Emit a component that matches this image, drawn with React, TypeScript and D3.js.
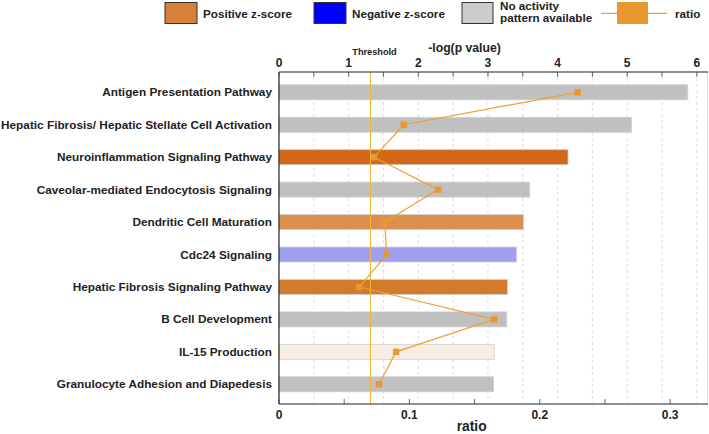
import React from "react";
import * as d3 from "d3";

const categories = [
  "Antigen Presentation Pathway",
  "Hepatic Fibrosis/ Hepatic Stellate Cell Activation",
  "Neuroinflammation Signaling Pathway",
  "Caveolar-mediated Endocytosis Signaling",
  "Dendritic Cell Maturation",
  "Cdc24 Signaling",
  "Hepatic Fibrosis Signaling Pathway",
  "B Cell Development",
  "IL-15 Production",
  "Granulocyte Adhesion and Diapedesis",
];
const logP = [5.87, 5.06, 4.15, 3.6, 3.51, 3.41, 3.28, 3.27, 3.09, 3.08];
const ratio = [0.229, 0.0957, 0.0729, 0.122, 0.0811, 0.0826, 0.0617, 0.165, 0.0898, 0.0767];
const barColors = ["#c0c0c0", "#c0c0c0", "#d06818", "#c0c0c0", "#dc9050", "#a0a0f0", "#d47a2c", "#c0c0c0", "#f8ede3", "#c0c0c0"];
const topTicks = [0, 1, 2, 3, 4, 5, 6];
const bottomTicks = [0, 0.1, 0.2, 0.3];
const threshold = 1.3;

const FONT = "'Liberation Sans', Arial, sans-serif";
const TXT = "#222";

export default function App() {
  const W = 709, H = 434;
  const x0 = 279, x1 = 708, yTop = 72, yBot = 404;
  const xP = d3.scaleLinear().domain([0, 6.16]).range([x0, x1]);
  const xR = d3.scaleLinear().domain([0, 0.329]).range([x0, x1]);
  const y = d3.scalePoint<string>().domain(categories).range([92.3, 384.3]);
  const barH = 15;
  const minorP = d3.range(0, 6.01, 0.5);
  const minorR = d3.range(0, 0.326, 0.05);
  const line = d3.line<number>().x((d) => xR(d)).y((_, i) => y(categories[i])!);
  const thX = Math.round(xP(threshold)) + 0.5;

  return (
    <svg width={W} height={H} style={{ position: "absolute", left: 0, top: 0 }} fontFamily={FONT}>
      <rect width={W} height={H} fill="#fff" />
      {/* legend */}
      <g fontWeight="bold" fontSize={11.7} fill={TXT}>
        <rect x={165} y={2.5} width={32} height={21} fill="#d8803a" stroke="#333" />
        <text x={203} y={17.5}>Positive z-score</text>
        <rect x={314} y={2.5} width={32} height={21} fill="#0000ff" stroke="#333" />
        <text x={352} y={17.5}>Negative z-score</text>
        <rect x={462} y={2.5} width={31} height={21} fill="#cccccc" stroke="#333" />
        <text x={500} y={10}>No activity</text>
        <text x={500} y={22}>pattern available</text>
        <line x1={601} x2={667} y1={13.3} y2={13.3} stroke="#f0a030" strokeWidth={1.2} />
        <rect x={617} y={2} width={31} height={22} fill="#e8982c" />
        <text x={675} y={17.5}>ratio</text>
      </g>
      {/* grid */}
      {minorP.slice(1).map((v) => (
        <line key={"g" + v} x1={xP(v)} x2={xP(v)} y1={yTop} y2={yBot} stroke="#d4d4d4" strokeDasharray="3,3" strokeWidth={0.8} />
      ))}
      <line x1={x1 - 0.5} x2={x1 - 0.5} y1={yTop} y2={yBot} stroke="#d8d8d8" strokeWidth={0.8} />
      {/* bars */}
      {categories.map((c, i) => (
        <rect key={c} x={xP(0)} y={y(c)! - barH / 2} width={xP(logP[i]) - xP(0)} height={barH}
          fill={barColors[i]} stroke="#d0d0d0" strokeWidth={0.8} />
      ))}
      {/* threshold */}
      <line x1={thX} x2={thX} y1={yTop} y2={yBot} stroke="#f3b23a" strokeWidth={1} />
      <text x={thX + 4} y={55} textAnchor="middle" fontWeight="bold" fontSize={9.2} fill={TXT}>Threshold</text>
      {/* ratio line */}
      <path d={line(ratio)!} fill="none" stroke="#f0a030" strokeWidth={1.2} />
      {ratio.map((r, i) => (
        <rect key={"m" + i} x={xR(r) - 3.2} y={y(categories[i])! - 3.2} width={6.4} height={6.4} fill="#e8982c" />
      ))}
      {/* axes */}
      <line x1={x0} x2={x1} y1={yTop} y2={yTop} stroke="#222" strokeWidth={1.2} />
      <line x1={x0} x2={x1} y1={yBot} y2={yBot} stroke="#222" strokeWidth={1.2} />
      <line x1={x0} x2={x0} y1={yTop} y2={yBot} stroke="#222" strokeWidth={1.2} />
      {minorP.map((v) => (
        <line key={"tp" + v} x1={xP(v)} x2={xP(v)} y1={yTop} y2={yTop + 5} stroke="#444" strokeWidth={0.8} />
      ))}
      {minorR.map((v) => (
        <line key={"tr" + v} x1={xR(v)} x2={xR(v)} y1={yBot} y2={yBot - 5} stroke="#444" strokeWidth={0.8} />
      ))}
      <g fontWeight="bold" fontSize={12} fill={TXT} textAnchor="middle">
        {topTicks.map((v) => (
          <text key={"lp" + v} x={xP(v)} y={67}>{v}</text>
        ))}
        {bottomTicks.map((v) => (
          <text key={"lr" + v} x={xR(v)} y={419}>{v === 0 ? "0" : d3.format(".1f")(v)}</text>
        ))}
      </g>
      <text x={464.5} y={52} textAnchor="middle" fontWeight="bold" fontSize={12.2} fill={TXT}>-log(p value)</text>
      <text x={471.7} y={431} textAnchor="middle" fontWeight="bold" fontSize={13.8} fill={TXT}>ratio</text>
      {/* category labels */}
      <g fontWeight="bold" fontSize={11.8} fill={TXT} textAnchor="end">
        {categories.map((c) => (
          <text key={"c" + c} x={272} y={y(c)! + 4}>{c}</text>
        ))}
      </g>
    </svg>
  );
}
